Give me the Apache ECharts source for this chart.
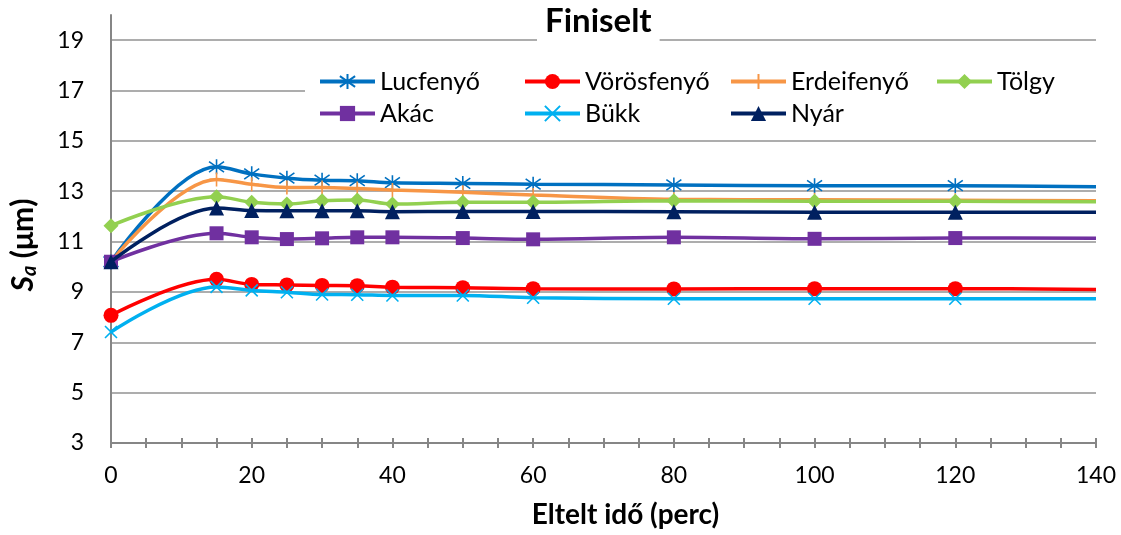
<!DOCTYPE html>
<html>
<head>
<meta charset="utf-8">
<script src="https://cdn.jsdelivr.net/npm/echarts@6/dist/echarts.min.js"></script>
<style>
  html, body { margin: 0; padding: 0; background: #fff; }
  #chart { width: 1121px; height: 535px; }
</style>
</head>
<body>
<div id="chart"></div>
<script>
// Elapsed time (minutes) at which roughness was measured
const times = [0, 15, 20, 25, 30, 35, 40, 50, 60, 80, 100, 120, 140];

// Sa roughness (µm) per wood species
const lucfenyo   = [10.2, 13.97, 13.69, 13.52, 13.44, 13.42, 13.34, 13.31, 13.28, 13.25, 13.22, 13.22, 13.18];
const vorosfenyo = [8.07, 9.5, 9.3, 9.28, 9.26, 9.25, 9.19, 9.17, 9.13, 9.12, 9.13, 9.13, 9.1];
const erdeifenyo = [10.2, 13.47, 13.28, 13.15, 13.15, 13.11, 13.05, 12.96, 12.85, 12.68, 12.66, 12.64, 12.62];
const tolgy      = [11.63, 12.78, 12.56, 12.49, 12.62, 12.65, 12.49, 12.56, 12.56, 12.62, 12.6, 12.6, 12.58];
const akac       = [10.2, 11.33, 11.17, 11.1, 11.13, 11.17, 11.17, 11.14, 11.09, 11.17, 11.11, 11.14, 11.13];
const bukk       = [7.41, 9.2, 9.06, 8.99, 8.9, 8.89, 8.86, 8.86, 8.77, 8.73, 8.73, 8.73, 8.73];
const nyar       = [10.2, 12.33, 12.23, 12.22, 12.22, 12.22, 12.19, 12.2, 12.2, 12.19, 12.17, 12.17, 12.17];

const seriesNames = ['Lucfenyő', 'Vörösfenyő', 'Erdeifenyő', 'Tölgy', 'Akác', 'Bükk', 'Nyár'];
const xTickLabels = ['0', '20', '40', '60', '80', '100', '120', '140'];

const FONT = 'Lato';

// Stroke-only marker shapes
const ASTERISK = 'path://M10,0L10,20M3,3L17,17M3,17L17,3';
const CROSS = 'path://M0,0L20,20M0,20L20,0';
const PLUS = 'path://M10,0L10,20M0,10L20,10';

const styles = [
  { color: '#0070C0', symbol: ASTERISK, size: 15, stroke: true },
  { color: '#FF0000', symbol: 'circle', size: 15, stroke: false },
  { color: '#F79646', symbol: PLUS, size: 14, stroke: true },
  { color: '#92D050', symbol: 'diamond', size: 15, stroke: false },
  { color: '#7030A0', symbol: 'rect', size: 14, stroke: false },
  { color: '#00B0F0', symbol: CROSS, size: 12, stroke: true },
  { color: '#002060', symbol: 'triangle', size: 15, stroke: false }
];
const values = [lucfenyo, vorosfenyo, erdeifenyo, tolgy, akac, bukk, nyar];

function buildData(ys) {
  return ys.map((y, i) => {
    const item = { value: [times[i], y] };
    if (i === ys.length - 1) item.symbol = 'none';
    return item;
  });
}

const series = seriesNames.map((name, k) => {
  const st = styles[k];
  return {
    name: name,
    type: 'line',
    smooth: 0.35,
    symbol: st.symbol,
    symbolSize: st.size,
    data: buildData(values[k]),
    lineStyle: { color: st.color, width: 3.5 },
    itemStyle: st.stroke
      ? { color: st.color, borderColor: st.color, borderWidth: 1.6 }
      : { color: st.color, borderWidth: 0 },
    emphasis: { disabled: true },
    z: 2 + k
  };
});

function legendColumn(names, left) {
  return {
    data: names,
    orient: 'vertical',
    left: left,
    top: 69,
    padding: 0,
    itemWidth: 55,
    itemHeight: 19,
    itemGap: 7,
    selectedMode: false,
    lineStyle: { width: 4 },
    textStyle: { fontFamily: FONT, fontSize: 25, color: '#000' }
  };
}

const chart = echarts.init(document.getElementById('chart'), null, { renderer: 'canvas' });
chart.setOption({
  animation: false,
  backgroundColor: '#fff',
  title: {
    text: 'Finiselt',
    left: 537,
    top: 1,
    padding: [4, 8, 4, 8],
    backgroundColor: '#fff',
    textStyle: { fontFamily: FONT, fontSize: 33, fontWeight: 'bold', color: '#000' }
  },
  grid: { left: 111, right: 25, top: 15, bottom: 92, outerBoundsMode: 'none', containLabel: false },
  graphic: [{
    type: 'rect',
    shape: { x: 305, y: 60, width: 800, height: 70 },
    style: { fill: '#fff' },
    z: 3
  }],
  legend: [
    legendColumn(['Lucfenyő', 'Akác'], 318),
    legendColumn(['Vörösfenyő', 'Bükk'], 523),
    legendColumn(['Erdeifenyő', 'Nyár'], 729),
    legendColumn(['Tölgy'], 935)
  ],
  xAxis: [{
    type: 'value',
    min: 0,
    max: 140,
    interval: 5,
    name: 'Eltelt idő (perc)',
    nameLocation: 'middle',
    nameGap: 58,
    nameTextStyle: { fontFamily: FONT, fontSize: 28, fontWeight: 'bold', color: '#000', padding: [0, 0, 0, 44] },
    axisLine: { lineStyle: { color: '#868686', width: 2 } },
    axisTick: { length: 5, lineStyle: { color: '#868686', width: 2 } },
    axisLabel: {
      fontFamily: FONT, fontSize: 23, color: '#000', margin: 21,
      formatter: v => (xTickLabels.indexOf(String(v)) >= 0 ? String(v) : '')
    },
    splitLine: { show: false }
  }, {
    type: 'value',
    position: 'bottom',
    min: 0,
    max: 140,
    interval: 5,
    axisLine: { show: false },
    axisTick: { inside: true, length: 5, lineStyle: { color: '#868686', width: 2 } },
    axisLabel: { show: false },
    splitLine: { show: false }
  }],
  yAxis: {
    type: 'value',
    min: 3,
    max: 20,
    interval: 2,
    name: '{s|S}{sub|a}{n| (μm)}',
    nameLocation: 'middle',
    nameGap: 70,
    nameTextStyle: {
      padding: [0, 32, 0, 0],
      rich: {
        s: { fontFamily: FONT, fontSize: 30, fontWeight: 'bold', fontStyle: 'italic', color: '#000', lineHeight: 36 },
        sub: { fontFamily: FONT, fontSize: 20, fontWeight: 'bold', fontStyle: 'italic', color: '#000', lineHeight: 36, padding: [14, 0, 0, 0] },
        n: { fontFamily: FONT, fontSize: 30, fontWeight: 'bold', color: '#000', lineHeight: 36 }
      }
    },
    axisLine: { show: true, lineStyle: { color: '#868686', width: 2 } },
    axisTick: { show: false },
    axisLabel: { fontFamily: FONT, fontSize: 23, color: '#000', margin: 27, showMaxLabel: false },
    splitLine: { showMaxLine: false, lineStyle: { color: '#ADADAD', width: 2 } }
  },
  series: series
});
</script>
</body>
</html>
